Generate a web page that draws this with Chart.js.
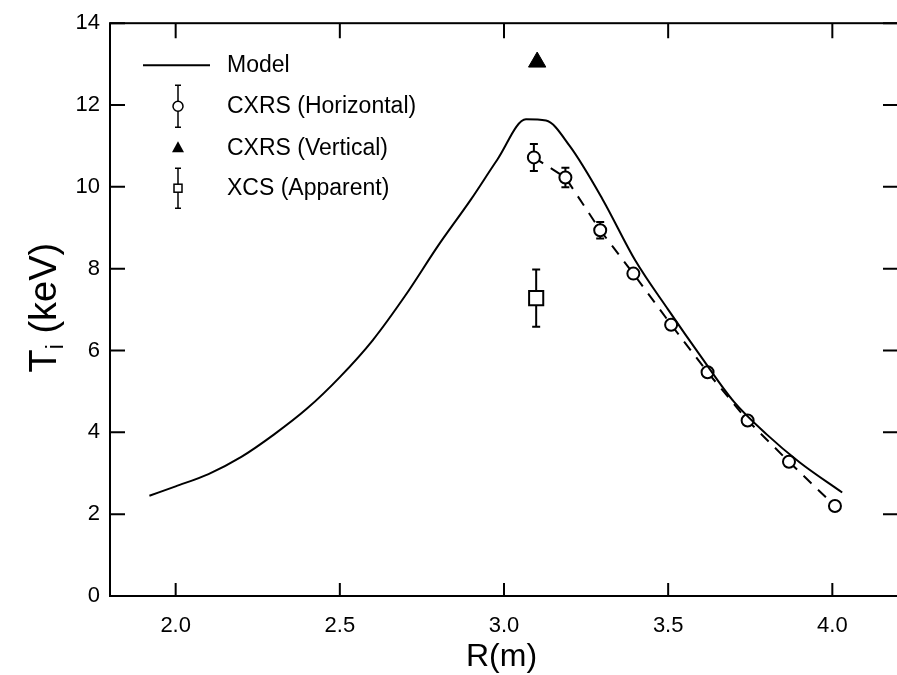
<!DOCTYPE html>
<html>
<head>
<meta charset="utf-8">
<script src="https://cdn.jsdelivr.net/npm/chart.js@4.4.1/dist/chart.umd.min.js"></script>
<style>
  html, body { margin: 0; padding: 0; background: #fff; overflow: hidden; }
  #wrap { width: 910px; height: 675px; }
</style>
</head>
<body>
<div id="wrap"><canvas id="tiChart" width="910" height="675"></canvas></div>
<script>
// model profile (solid line)
const modelR = [1.92, 2.00, 2.10, 2.20, 2.30, 2.40, 2.50, 2.60, 2.70, 2.80, 2.90, 2.98, 3.067, 3.128, 3.20, 3.30, 3.40, 3.50, 3.60, 3.70, 3.80, 3.90, 4.03];
const modelT = [2.45, 2.68, 2.98, 3.40, 3.95, 4.58, 5.35, 6.25, 7.35, 8.57, 9.70, 10.67, 11.65, 11.62, 11.0, 9.70, 8.20, 7.00, 5.85, 4.75, 3.95, 3.27, 2.53];

// CXRS horizontal (open circles, dashed)
const cxrsR = [3.091, 3.187, 3.293, 3.394, 3.509, 3.62, 3.742, 3.868, 4.008];
const cxrsT = [10.72, 10.23, 8.94, 7.88, 6.63, 5.47, 4.29, 3.28, 2.20];
const cxrsErr = [0.33, 0.24, 0.2, 0, 0, 0, 0, 0, 0];

// CXRS vertical (filled triangle)
const vertR = [3.101];
const vertT = [13.05];

// XCS apparent (open square)
const xcsR = [3.098];
const xcsT = [7.28];
const xcsErr = [0.7];

const xTicks = [2.0, 2.5, 3.0, 3.5, 4.0];
const yTicks = [0, 2, 4, 6, 8, 10, 12, 14];
const legendLabels = ['Model', 'CXRS (Horizontal)', 'CXRS (Vertical)', 'XCS (Apparent)'];

const FONT = '"Liberation Sans", Arial, Helvetica, sans-serif';
const toPoints = (xs, ys) => xs.map((x, i) => ({ x: x, y: ys[i] }));

// frame, inward ticks, error bars, legend and axis titles
const figurePlugin = {
  id: 'figure',
  beforeDatasetsDraw(chart) {
    const ctx = chart.ctx;
    const xs = chart.scales.x, ys = chart.scales.y;
    const bars = [[cxrsR, cxrsT, cxrsErr], [xcsR, xcsT, xcsErr]];
    ctx.save();
    ctx.strokeStyle = '#000';
    ctx.lineWidth = 2;
    bars.forEach(([rs, ts, es]) => {
      rs.forEach((r, i) => {
        if (!es[i]) return;
        const px = xs.getPixelForValue(r);
        const top = ys.getPixelForValue(ts[i] + es[i]);
        const bot = ys.getPixelForValue(ts[i] - es[i]);
        ctx.beginPath();
        ctx.moveTo(px, top); ctx.lineTo(px, bot);
        ctx.moveTo(px - 4, top); ctx.lineTo(px + 4, top);
        ctx.moveTo(px - 4, bot); ctx.lineTo(px + 4, bot);
        ctx.stroke();
      });
    });
    ctx.restore();
  },
  afterDraw(chart) {
    const ctx = chart.ctx;
    const a = chart.chartArea;
    const xs = chart.scales.x, ys = chart.scales.y;
    ctx.save();
    ctx.strokeStyle = '#000';
    ctx.lineWidth = 2;
    ctx.strokeRect(a.left, a.top, a.right - a.left, a.bottom - a.top);

    ctx.beginPath();
    xTicks.forEach(v => {
      const px = xs.getPixelForValue(v);
      ctx.moveTo(px, a.bottom); ctx.lineTo(px, a.bottom - 13);
      ctx.moveTo(px, a.top); ctx.lineTo(px, a.top + 15);
    });
    yTicks.forEach(v => {
      const py = ys.getPixelForValue(v);
      ctx.moveTo(a.left, py); ctx.lineTo(a.left + 15, py);
      ctx.moveTo(a.right, py); ctx.lineTo(a.right - 15, py);
    });
    ctx.stroke();

    // legend
    const mx = a.left + 68, tx = a.left + 117;
    const rows = [a.top + 42, a.top + 83, a.top + 125, a.top + 165];
    ctx.fillStyle = '#000';
    ctx.font = '23px ' + FONT;
    ctx.textBaseline = 'middle';
    ctx.textAlign = 'left';
    legendLabels.forEach((t, i) => ctx.fillText(t, tx, rows[i]));

    ctx.lineWidth = 2;
    ctx.beginPath();
    ctx.moveTo(a.left + 33, rows[0]); ctx.lineTo(a.left + 100, rows[0]);
    ctx.stroke();

    ctx.lineWidth = 1.5;
    [[rows[1], 21], [rows[3], 20]].forEach(([y, h]) => {
      ctx.beginPath();
      ctx.moveTo(mx, y - h); ctx.lineTo(mx, y + h);
      ctx.moveTo(mx - 3, y - h); ctx.lineTo(mx + 3, y - h);
      ctx.moveTo(mx - 3, y + h); ctx.lineTo(mx + 3, y + h);
      ctx.stroke();
    });
    ctx.fillStyle = '#fff';
    ctx.beginPath();
    ctx.arc(mx, rows[1], 5, 0, Math.PI * 2);
    ctx.fill(); ctx.stroke();
    ctx.fillRect(mx - 4, rows[3] - 4, 8, 8);
    ctx.strokeRect(mx - 4, rows[3] - 4, 8, 8);
    ctx.fillStyle = '#000';
    ctx.beginPath();
    ctx.moveTo(mx, rows[2] - 7); ctx.lineTo(mx + 6, rows[2] + 4); ctx.lineTo(mx - 6, rows[2] + 4);
    ctx.closePath(); ctx.fill();

    // axis titles
    ctx.font = '32px ' + FONT;
    ctx.textAlign = 'center';
    ctx.textBaseline = 'alphabetic';
    ctx.fillText('R(m)', (a.left + 897) / 2 - 2, 666);

    ctx.translate(42, (a.top + a.bottom) / 2 - 2);
    ctx.rotate(-Math.PI / 2);
    ctx.textAlign = 'left';
    const big = '38px ' + FONT, small = '23px ' + FONT;
    ctx.font = big; const wT = ctx.measureText('T').width; const wK = ctx.measureText(' (keV)').width;
    ctx.font = small; const wI = ctx.measureText('i').width;
    let x0 = -(wT + wI + wK) / 2;
    ctx.font = big; ctx.fillText('T', x0, 14);
    ctx.font = small; ctx.fillText('i', x0 + wT, 21);
    ctx.font = big; ctx.fillText(' (keV)', x0 + wT + wI, 14);
    ctx.restore();
  }
};

const tickFont = { family: FONT, size: 22 };

new Chart(document.getElementById('tiChart'), {
  type: 'scatter',
  data: {
    datasets: [
      {
        label: 'Model',
        data: toPoints(modelR, modelT),
        showLine: true,
        borderColor: '#000',
        borderWidth: 2,
        pointRadius: 0,
        cubicInterpolationMode: 'monotone'
      },
      {
        label: 'CXRS (Horizontal)',
        data: toPoints(cxrsR, cxrsT),
        showLine: true,
        borderColor: '#000',
        borderWidth: 2,
        borderDash: [11, 9],
        pointStyle: 'circle',
        pointRadius: 6,
        pointBorderWidth: 2,
        pointBorderColor: '#000',
        pointBackgroundColor: '#fff'
      },
      {
        label: 'CXRS (Vertical)',
        data: toPoints(vertR, vertT),
        pointStyle: 'triangle',
        pointRadius: 10,
        pointBorderWidth: 1,
        pointBorderColor: '#000',
        pointBackgroundColor: '#000'
      },
      {
        label: 'XCS (Apparent)',
        data: toPoints(xcsR, xcsT),
        pointStyle: 'rect',
        pointRadius: 10,
        pointBorderWidth: 2,
        pointBorderColor: '#000',
        pointBackgroundColor: '#fff'
      }
    ]
  },
  options: {
    responsive: false,
    animation: false,
    layout: { padding: { top: 20, right: 10, left: 0, bottom: 0 } },
    plugins: {
      legend: { display: false },
      tooltip: { enabled: false }
    },
    scales: {
      x: {
        type: 'linear',
        min: 1.8,
        max: 4.2,
        afterBuildTicks: s => { s.ticks = xTicks.map(v => ({ value: v })); },
        afterFit: s => { s.height = 79; },
        ticks: { font: tickFont, color: '#000', padding: 17, maxRotation: 0, callback: v => v.toFixed(1) },
        grid: { drawOnChartArea: false, drawTicks: false },
        border: { display: false }
      },
      y: {
        min: 0,
        max: 14,
        afterBuildTicks: s => { s.ticks = yTicks.map(v => ({ value: v })); },
        afterFit: s => { s.width = 110; },
        ticks: { font: tickFont, color: '#000', padding: 10 },
        grid: { drawOnChartArea: false, drawTicks: false },
        border: { display: false }
      }
    }
  },
  plugins: [figurePlugin]
});
</script>
</body>
</html>
